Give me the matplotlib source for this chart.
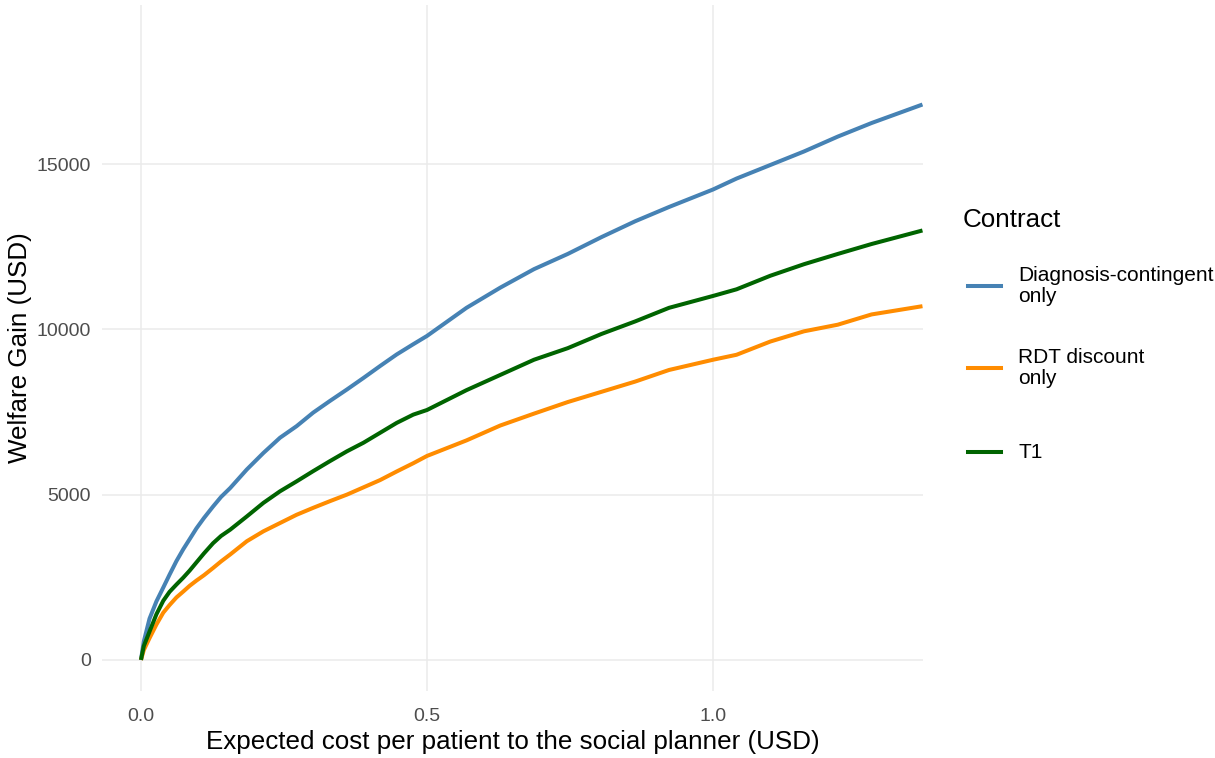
import matplotlib.pyplot as plt
from matplotlib.lines import Line2D

plt.rcParams['font.family'] = ['Liberation Sans', 'DejaVu Sans']

# expected cost per patient (USD)
cost = [0, 0.005, 0.015, 0.027, 0.039, 0.05, 0.062, 0.074, 0.085, 0.097,
        0.11, 0.126, 0.14, 0.156, 0.185, 0.214, 0.243, 0.272, 0.301, 0.33,
        0.36, 0.389, 0.418, 0.447, 0.476, 0.5, 0.569, 0.628, 0.687, 0.746,
        0.805, 0.864, 0.923, 1.0, 1.041, 1.1, 1.159, 1.218, 1.277, 1.366]

# welfare gain (USD) per contract
diag_only = [0, 560, 1250, 1770, 2190, 2580, 2990, 3350, 3650, 3980,
             4290, 4640, 4930, 5200, 5760, 6260, 6720, 7070, 7480, 7830,
             8180, 8530, 8890, 9240, 9550, 9800, 10650, 11260, 11820, 12280,
             12790, 13270, 13700, 14230, 14560, 14970, 15380, 15830, 16240, 16800]
rdt_only = [0, 300, 660, 1070, 1430, 1660, 1890, 2070, 2240, 2400,
            2560, 2780, 2980, 3190, 3590, 3890, 4140, 4390, 4600, 4800,
            5000, 5220, 5440, 5700, 5950, 6170, 6640, 7090, 7450, 7800,
            8110, 8420, 8770, 9080, 9230, 9630, 9940, 10140, 10450, 10700]
t1 = [0, 420, 860, 1380, 1790, 2060, 2280, 2490, 2700, 2950,
      3220, 3530, 3750, 3940, 4340, 4750, 5100, 5400, 5710, 6010,
      6310, 6570, 6870, 7170, 7420, 7560, 8160, 8620, 9080, 9430,
      9860, 10240, 10650, 11010, 11210, 11620, 11970, 12280, 12580, 12990]

labels = ['Diagnosis-contingent\nonly', 'RDT discount\nonly', 'T1']
series = [diag_only, rdt_only, t1]
colors = ['#4682B4', '#FF8C00', '#006400']

fig = plt.figure(figsize=(12.15, 7.58), dpi=100)
ax = fig.add_axes([0.0840, 0.0884, 0.6757, 0.905])

for vals, c in zip(series, colors):
    ax.plot(cost, vals, color=c, lw=2.9, solid_capstyle='butt')

ax.set_xlim(-0.068, 1.367)
ax.set_ylim(-940, 19810)
ax.set_xticks([0, 0.5, 1.0])
ax.set_xticklabels(['0.0', '0.5', '1.0'])
ax.set_yticks([0, 5000, 10000, 15000])
ax.set_yticklabels(['0', '5000', '10000', '15000'])

ax.grid(True, color='#EBEBEB', lw=1.1)
ax.set_axisbelow(True)
for s in ax.spines.values():
    s.set_visible(False)
ax.tick_params(length=0, labelsize=14, labelcolor='#4D4D4D')
ax.tick_params(axis='x', pad=12)
ax.tick_params(axis='y', pad=8)

ax.set_xlabel('Expected cost per patient to the social planner (USD)',
              fontsize=18.7, labelpad=4)
ax.set_ylabel('Welfare Gain (USD)', fontsize=18.7, labelpad=3.5)

# legend drawn in figure pixels
W, H = 1215, 758
fig.text(963 / W, 1 - 220 / H, 'Contract', fontsize=18.7, va='center', ha='left')
key_y = [286, 368, 452]
for y, lab, c in zip(key_y, labels, colors):
    fig.add_artist(Line2D([968 / W, 1001 / W], [1 - y / H, 1 - y / H],
                          color=c, lw=2.9, transform=fig.transFigure))
    fig.text(1018 / W, 1 - y / H, lab, fontsize=15, va='center', ha='left',
             linespacing=1.12)

fig.savefig('out.png', dpi=100)
